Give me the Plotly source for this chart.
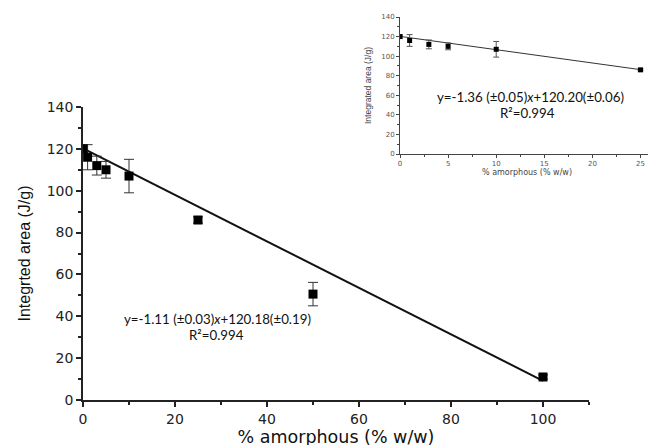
import plotly.graph_objects as go

W, H = 656, 445
OFF = 8  # page body margin offset

# ---- data ----
amorph = [0, 1, 3, 5, 10, 25, 50, 100]
area = [120, 116, 112, 110, 107, 86, 50.6, 11]
area_err = [2, 6, 4.5, 4, 8, 1.5, 5.6, 1]

fit_x = [0, 100]
fit_y = [120.18, 9.18]

inset_x = [0, 1, 3, 5, 10, 25]
inset_y = [120, 116, 112, 110, 107, 86]
inset_err = [1.5, 6, 4.5, 3.5, 8, 1]

inset_fit_x = [0, 25]
inset_fit_y = [120.2, 86.2]

main_eq = "y=-1.11 (±0.03)<i>x</i>+120.18(±0.19)"
main_r2 = "R²=0.994"
inset_eq = "y=-1.36 (±0.05)<i>x</i>+120.20(±0.06)"
inset_r2 = "R²=0.994"


def px(x):
    return (x - OFF) / W


def py(y):
    return 1 - (y - OFF) / H


fig = go.Figure()

fig.add_trace(go.Scatter(x=fit_x, y=fit_y, mode="lines",
                         line=dict(color="#111111", width=2),
                         xaxis="x", yaxis="y", showlegend=False))
fig.add_trace(go.Scatter(x=amorph, y=area, mode="markers",
                         marker=dict(symbol="square", size=9, color="#000000"),
                         error_y=dict(type="data", array=area_err, color="#333333",
                                      thickness=1, width=5),
                         xaxis="x", yaxis="y", showlegend=False))

fig.add_trace(go.Scatter(x=inset_fit_x, y=inset_fit_y, mode="lines",
                         line=dict(color="#333333", width=1),
                         xaxis="x2", yaxis="y2", showlegend=False))
fig.add_trace(go.Scatter(x=inset_x, y=inset_y, mode="markers",
                         marker=dict(symbol="square", size=5, color="#000000"),
                         error_y=dict(type="data", array=inset_err, color="#555555",
                                      thickness=1, width=3),
                         xaxis="x2", yaxis="y2", showlegend=False))

tickfont_main = dict(family="DejaVu Sans", size=14, color="#222222")
tickfont_inset = dict(family="DejaVu Sans", size=7, color="#555555")
ann_font = dict(family="Lato", size=13.3, color="#111111")

fig.update_layout(
    width=W, height=H,
    margin=dict(l=0, r=0, t=0, b=0),
    paper_bgcolor="white", plot_bgcolor="white",
    xaxis=dict(domain=[px(83), px(589)], range=[0, 110], anchor="y",
               showgrid=False, zeroline=False, showline=True,
               linecolor="#222222", linewidth=1.5,
               ticks="outside", ticklen=5, tickwidth=1.5, tickcolor="#222222",
               tick0=0, dtick=20, tickfont=tickfont_main,
               minor=dict(dtick=10, ticks="outside", ticklen=3, tickcolor="#222222"),
               title=dict(text="% amorphous (% w/w)",
                          font=dict(family="DejaVu Sans", size=17.5, color="#111111"),
                          standoff=0),
               automargin=False),
    yaxis=dict(domain=[py(400), py(107)], range=[0, 140], anchor="x",
               showgrid=False, zeroline=False, showline=True,
               linecolor="#222222", linewidth=1.5,
               ticks="outside", ticklen=5, tickwidth=1.5, tickcolor="#222222",
               tick0=0, dtick=20, tickfont=tickfont_main,
               minor=dict(dtick=10, ticks="outside", ticklen=3, tickcolor="#222222"),
               title=dict(text="Integrted area (J/g)",
                          font=dict(family="Liberation Sans Narrow, Liberation Sans",
                                    size=16, color="#111111"),
                          standoff=12),
               automargin=False),
    xaxis2=dict(domain=[px(400), px(654)], range=[0, 26.4], anchor="y2",
                showgrid=False, zeroline=False, showline=True,
                linecolor="#444444", linewidth=1,
                ticks="outside", ticklen=3, tickcolor="#444444",
                tick0=0, dtick=5, tickfont=tickfont_inset,
                minor=dict(dtick=2.5, ticks="outside", ticklen=2, tickcolor="#444444"),
                title=dict(text="% amorphous (% w/w)",
                           font=dict(family="DejaVu Sans", size=8, color="#444444"),
                           standoff=1),
                automargin=False),
    yaxis2=dict(domain=[py(154), py(17)], range=[0, 140], anchor="x2",
                showgrid=False, zeroline=False, showline=True,
                linecolor="#444444", linewidth=1,
                ticks="outside", ticklen=3, tickcolor="#444444",
                tick0=0, dtick=20, tickfont=tickfont_inset,
                minor=dict(dtick=10, ticks="outside", ticklen=2, tickcolor="#444444"),
                title=dict(text="Integrated area (J/g)",
                           font=dict(family="Liberation Sans Narrow, Liberation Sans",
                                     size=8.5, color="#444444"),
                           standoff=8),
                automargin=False),
    annotations=[
        dict(x=px(217), y=py(319), xref="paper", yref="paper", text=main_eq,
             xanchor="center", yanchor="middle", showarrow=False, font=ann_font),
        dict(x=px(216), y=py(335), xref="paper", yref="paper", text=main_r2,
             xanchor="center", yanchor="middle", showarrow=False, font=ann_font),
        dict(x=px(530), y=py(97), xref="paper", yref="paper", text=inset_eq,
             xanchor="center", yanchor="middle", showarrow=False, font=ann_font),
        dict(x=px(527), y=py(113), xref="paper", yref="paper", text=inset_r2,
             xanchor="center", yanchor="middle", showarrow=False, font=ann_font),
    ],
)

fig.write_html("out.html")
